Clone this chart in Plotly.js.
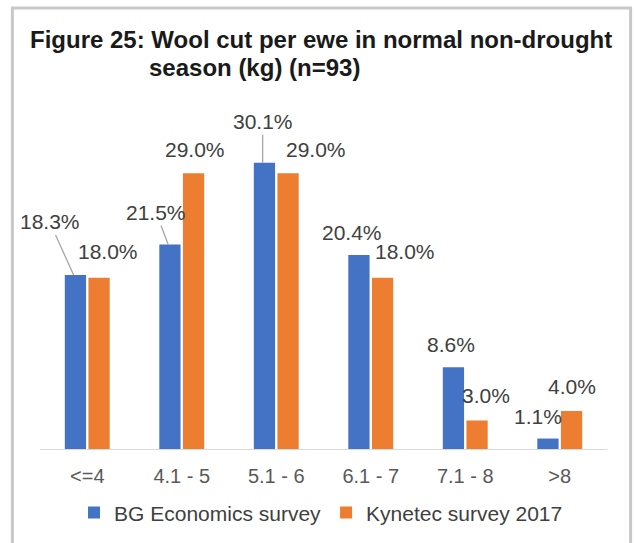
<!DOCTYPE html>
<html>
<head>
<meta charset="utf-8">
<script src="https://cdn.plot.ly/plotly-3.0.1.min.js"></script>
<style>
  html, body { margin: 0; padding: 0; background: #ffffff; }
  #chart { width: 635px; height: 543px; }
</style>
</head>
<body>
<div id="chart"></div>
<script>
// ---- data ----
const categories = ["<=4", "4.1 - 5", "5.1 - 6", "6.1 - 7", "7.1 - 8", ">8"];
const bgValues = [18.3, 21.5, 30.1, 20.4, 8.6, 1.1];
const kynetecValues = [18.0, 29.0, 29.0, 18.0, 3.0, 4.0];
const seriesNames = ["BG Economics survey", "Kynetec survey 2017"];

// ---- label placement (pixel offsets from the top centre of each bar) ----
const barShift = 13.6;
const bgLabelDx = [-24, -12, 0, -5, -1, -8];
const bgLabelDy = [-53, -32, -41, -23, -23, -22];
const bgLeader = [true, true, true, false, false, false];
const kyLabelDx = [7, 0, 26, 21, 7, -1];
const kyLabelDy = [-26, -24, -24, -26, -25, -24];

const BLUE = "#4472C4", ORANGE = "#ED7D31";
const FONT = "Liberation Sans, Arial, sans-serif";

const traces = [
  { type: "bar", name: seriesNames[0], x: categories, y: bgValues,
    marker: { color: BLUE }, hoverinfo: "skip" },
  { type: "bar", name: seriesNames[1], x: categories, y: kynetecValues,
    marker: { color: ORANGE }, hoverinfo: "skip" }
];

const annotations = [];
function fmt(v) { return v.toFixed(1) + "%"; }
const labelFont = { family: FONT, size: 21, color: "#404040" };
categories.forEach((c, i) => {
  if (bgLeader[i]) {
    annotations.push({ x: c, y: bgValues[i], xref: "x", yref: "y", xshift: -barShift,
      text: fmt(bgValues[i]), showarrow: true, arrowhead: 0, arrowwidth: 1.3,
      arrowcolor: "#A6A6A6", standoff: 0, ax: bgLabelDx[i], ay: bgLabelDy[i],
      axref: "pixel", ayref: "pixel", font: labelFont });
  } else {
    annotations.push({ x: c, y: bgValues[i], xref: "x", yref: "y",
      xshift: -barShift + bgLabelDx[i], yshift: -bgLabelDy[i],
      text: fmt(bgValues[i]), showarrow: false, xanchor: "center", yanchor: "middle",
      font: labelFont });
  }
  annotations.push({ x: c, y: kynetecValues[i], xref: "x", yref: "y",
    xshift: barShift + kyLabelDx[i], yshift: -kyLabelDy[i],
    text: fmt(kynetecValues[i]), showarrow: false, xanchor: "center", yanchor: "middle",
    font: labelFont });
});

// title lines
annotations.push({ xref: "paper", yref: "paper", x: 0.4956, y: 1.172, xanchor: "center", yanchor: "middle",
  text: "<b>Figure 25: Wool cut per ewe in normal non-drought</b>", showarrow: false,
  font: { family: FONT, size: 24, color: "#1a1a1a" } });
annotations.push({ xref: "paper", yref: "paper", x: 0.189, y: 1.092, xanchor: "left", yanchor: "middle",
  text: "<b>season (kg) (n=93)</b>", showarrow: false,
  font: { family: FONT, size: 24, color: "#1a1a1a" } });

const layout = {
  width: 635, height: 543,
  margin: { l: 40, r: 28, t: 100, b: 94, autoexpand: false },
  paper_bgcolor: "#ffffff", plot_bgcolor: "#ffffff",
  barmode: "group", bargap: 0.5, bargroupgap: 0.1,
  showlegend: true,
  legend: { orientation: "h", x: 0.06, xanchor: "left", y: -0.183, yanchor: "middle",
    bgcolor: "rgba(0,0,0,0)",
    font: { family: FONT, size: 21, color: "#404040" }, itemwidth: 30,
    traceorder: "normal" },
  xaxis: { type: "category", range: [-0.5, 5.5], automargin: false,
    showline: true, linecolor: "#D9D9D9", linewidth: 1,
    ticks: "", ticklabelstandoff: 9, showgrid: false, zeroline: false, fixedrange: true,
    tickfont: { family: FONT, size: 20, color: "#595959" } },
  yaxis: { range: [0, 36.7], visible: false, automargin: false, showticklabels: false,
    showgrid: false, zeroline: false, fixedrange: true },
  annotations: annotations,
  shapes: [
    { type: "rect", xref: "paper", yref: "paper", x0: -0.0487, x1: 1.0416, y0: -0.32, y1: 1.2636,
      line: { color: "#C8C8C8", width: 3 }, fillcolor: "rgba(0,0,0,0)", layer: "below" }
  ]
};

Plotly.newPlot("chart", traces, layout, { displayModeBar: false, staticPlot: true });
</script>
</body>
</html>
